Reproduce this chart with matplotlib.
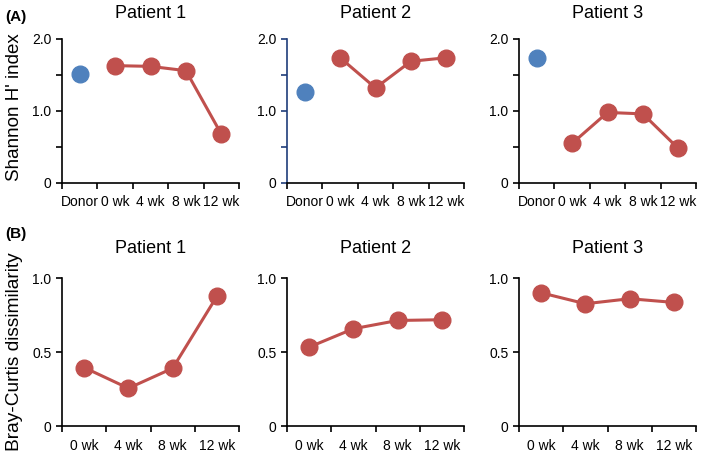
import numpy as np
import matplotlib.pyplot as plt
from matplotlib.ticker import MultipleLocator, FixedLocator

plt.rcParams['font.family'] = ['Liberation Sans', 'DejaVu Sans']

RED = '#c0504d'
BLUE = '#4f81bd'

# (A) Shannon diversity
labels_a = ['Donor', '0 wk', '4 wk', '8 wk', '12 wk']
donor_shannon = [1.52, 1.27, 1.73]
patient_shannon = [
    [1.63, 1.62, 1.56, 0.68],
    [1.74, 1.32, 1.69, 1.74],
    [0.55, 0.98, 0.96, 0.48],
]

# (B) Bray-Curtis dissimilarity
labels_b = ['0 wk', '4 wk', '8 wk', '12 wk']
bray_curtis = [
    [0.395, 0.255, 0.39, 0.876],
    [0.533, 0.657, 0.713, 0.718],
    [0.90, 0.826, 0.86, 0.835],
]

titles = ['Patient 1', 'Patient 2', 'Patient 3']

fig = plt.figure(figsize=(7.09, 4.54), dpi=100)

lefts = [62 / 709, 287 / 709, 519 / 709]
width = 177 / 709


def style_axes(ax, n, labels):
    for s in ['top', 'right']:
        ax.spines[s].set_visible(False)
    for s in ['left', 'bottom']:
        ax.spines[s].set_linewidth(1.2)
    ax.set_xlim(-0.5, n - 0.5)
    ax.set_xticks(np.arange(n))
    ax.set_xticklabels(labels)
    ax.xaxis.set_minor_locator(FixedLocator(np.arange(n + 1) - 0.5))
    ax.tick_params(axis='x', which='major', length=0, pad=9, labelsize=10)
    ax.tick_params(axis='x', which='minor', length=4, width=1.2, direction='out')
    ax.tick_params(axis='y', which='both', length=4, width=1.2, direction='out', labelsize=10)


for i in range(3):
    ax = fig.add_axes([lefts[i], 1 - 183 / 454, width, 144 / 454])
    style_axes(ax, 5, labels_a)
    ax.plot([0], [donor_shannon[i]], 'o', color=BLUE, markersize=12)
    ax.plot(np.arange(1, 5), patient_shannon[i], '-o', color=RED, lw=2.2, markersize=12)
    ax.set_ylim(0, 2.0)
    ax.set_yticks([0, 1.0, 2.0])
    ax.set_yticklabels(['0', '1.0', '2.0'])
    ax.yaxis.set_minor_locator(MultipleLocator(0.5))
    ax.set_title(titles[i], fontsize=13, pad=15)
    if i == 1:
        ax.spines['left'].set_color('#1f3d7a')
        ax.tick_params(axis='y', which='both', color='#1f3d7a')
    if i == 0:
        ax.set_ylabel("Shannon H' index", fontsize=13.5)
        ax.yaxis.set_label_coords(-0.22, 0.53)

for i in range(3):
    ax = fig.add_axes([lefts[i], 1 - 426 / 454, width, 148 / 454])
    style_axes(ax, 4, labels_b)
    ax.plot(np.arange(4), bray_curtis[i], '-o', color=RED, lw=2.2, markersize=12)
    ax.set_ylim(0, 1.0)
    ax.set_yticks([0, 0.5, 1.0])
    ax.set_yticklabels(['0', '0.5', '1.0'])
    ax.set_title(titles[i], fontsize=13, pad=18)
    if i == 0:
        ax.set_ylabel('Bray-Curtis dissimilarity', fontsize=13.8)
        ax.yaxis.set_label_coords(-0.22, 0.5)

fig.text(5 / 709, 1 - 17 / 454, '(A)', fontsize=11, fontweight='bold', va='center')
fig.text(5 / 709, 1 - 234 / 454, '(B)', fontsize=11, fontweight='bold', va='center')

fig.savefig('out.png', dpi=100)
